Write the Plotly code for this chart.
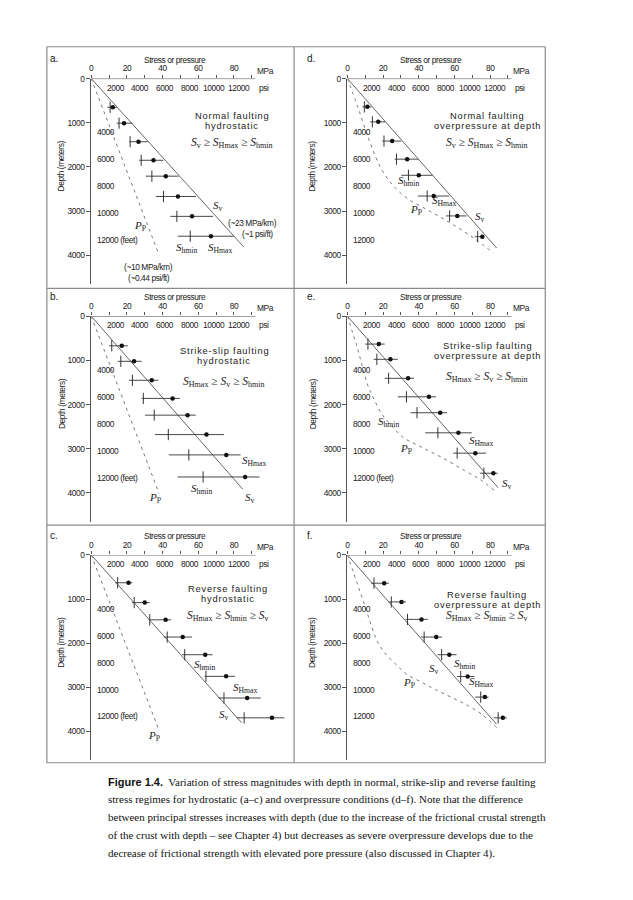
import plotly.graph_objects as go

# ---------------- data (MPa, depth in metres) ----------------
panel_letters = ["a.", "b.", "c.", "d.", "e.", "f."]
panel_title1 = ["Normal faulting", "Strike-slip faulting", "Reverse faulting",
                "Normal faulting", "Strike-slip faulting", "Reverse faulting"]
panel_title2 = ["hydrostatic", "hydrostatic", "hydrostatic",
                "overpressure at depth", "overpressure at depth", "overpressure at depth"]
panel_order = ["<i>S</i><sub>v</sub> ≥ <i>S</i><sub>Hmax</sub> ≥ <i>S</i><sub>hmin</sub>",
               "<i>S</i><sub>Hmax</sub> ≥ <i>S</i><sub>v</sub> ≥ <i>S</i><sub>hmin</sub>",
               "<i>S</i><sub>Hmax</sub> ≥ <i>S</i><sub>hmin</sub> ≥ <i>S</i><sub>v</sub>",
               "<i>S</i><sub>v</sub> ≥ <i>S</i><sub>Hmax</sub> ≥ <i>S</i><sub>hmin</sub>",
               "<i>S</i><sub>Hmax</sub> ≥ <i>S</i><sub>v</sub> ≥ <i>S</i><sub>hmin</sub>",
               "<i>S</i><sub>Hmax</sub> ≥ <i>S</i><sub>hmin</sub> ≥ <i>S</i><sub>v</sub>"]

# stress measurements per panel: depth, bar low, Shmin, SHmax, bar high
a_depth = [650, 1010, 1430, 1850, 2210, 2670, 3120, 3570]
a_lo    = [9.1, 14.3, 21.3, 26.9, 30.6, 36.2, 44.3, 48.6]
a_shmin = [10.6, 15.6, 21.8, 28.0, 34.0, 40.5, 48.0, 55.5]
a_shmax = [12.1, 18.4, 26.5, 34.9, 41.8, 48.6, 56.5, 67.1]
a_hi    = [14.3, 22.8, 31.7, 40.5, 49.0, 58.7, 68.3, 79.9]

b_depth = [670, 1020, 1450, 1860, 2240, 2680, 3140, 3640]
b_lo    = [10.0, 14.9, 21.2, 28.3, 30.1, 35.7, 43.5, 48.4]
b_shmin = [11.5, 16.6, 23.1, 29.2, 35.3, 43.2, 54.7, 62.7]
b_shmax = [17.1, 24.0, 33.9, 45.6, 54.0, 64.6, 75.7, 86.3]
b_hi    = [20.5, 28.3, 37.6, 49.7, 58.6, 74.4, 83.7, 94.3]

c_depth = [630, 1080, 1470, 1860, 2260, 2750, 3240, 3690]
c_lo    = [13.5, 22.8, 32.4, 40.7, 50.9, 63.5, 71.3, 81.5]
c_shmin = [14.8, 24.1, 32.8, 42.6, 52.4, 64.3, 74.4, 85.7]
c_shmax = [20.9, 30.0, 41.7, 51.3, 63.9, 75.6, 87.4, 101.3]
c_hi    = [23.1, 32.8, 44.8, 56.5, 68.0, 80.6, 95.0, 108.3]

d_depth = [640, 980, 1415, 1825, 2190, 2660, 3110, 3580]
d_lo    = [8.4, 12.7, 19.5, 26.5, 30.2, 39.5, 55.3, 71.4]
d_shmin = [9.5, 14.0, 20.5, 27.5, 34.2, 44.7, 57.3, 73.0]
d_shmax = [11.2, 17.3, 25.1, 33.5, 40.0, 48.4, 61.6, 75.6]
d_hi    = [13.5, 21.1, 30.2, 39.7, 47.7, 57.0, 66.8, 76.6]

e_depth = [630, 975, 1405, 1825, 2185, 2640, 3100, 3555]
e_lo    = [10.0, 14.7, 20.9, 28.2, 35.4, 43.6, 59.3, 74.2]
e_shmin = [11.5, 16.5, 23.1, 33.1, 39.0, 50.7, 61.5, 76.5]
e_shmax = [17.6, 24.1, 34.0, 45.7, 52.0, 62.2, 71.7, 81.8]
e_hi    = [20.9, 28.2, 37.3, 49.6, 55.9, 69.7, 77.7, 84.2]

f_depth = [640, 1065, 1460, 1860, 2260, 2755, 3220, 3690]
f_lo    = [13.3, 23.1, 32.6, 41.4, 50.5, 61.4, 71.6, 81.9]
f_shmin = [14.9, 24.6, 33.7, 43.0, 52.8, 63.5, 74.7, 84.5]
f_shmax = [20.6, 30.3, 41.5, 49.8, 57.1, 67.4, 77.0, 87.1]
f_hi    = [23.3, 32.8, 45.0, 53.0, 61.2, 71.2, 79.1, 89.3]

# vertical stress line (MPa, depth)
sv_mpa   = [[0, 85.4], [0, 85.0], [0, 84.3], [0, 83.7], [0, 84.4], [0, 83.5]]
sv_depth = [[0, 3810], [0, 3920], [0, 3800], [0, 3840], [0, 3880], [0, 3830]]

# pore pressure
a_pp_mpa, a_pp_depth = [0, 38.1], [0, 4000]
b_pp_mpa, b_pp_depth = [0, 38.0], [0, 4010]
c_pp_mpa, c_pp_depth = [0, 38.0], [0, 3970]
d_pp_mpa   = [0, 5.8, 12.5, 18.8, 26.0, 33.5, 44.7, 57.7, 70.7, 81.9]
d_pp_depth = [0, 640, 1430, 2030, 2440, 2710, 2970, 3270, 3610, 3950]
e_pp_mpa   = [0, 5.5, 11.5, 14.8, 19.2, 24.6, 31.1, 41.3, 52.5, 65.5, 74.8, 82.2]
e_pp_depth = [0, 710, 1570, 1870, 2210, 2470, 2740, 2960, 3190, 3490, 3710, 3940]
f_pp_mpa   = [0, 5.8, 10.2, 13.8, 17.2, 21.8, 27.2, 33.5, 41.9, 49.3, 58.6, 67.9, 75.3, 83.7]
f_pp_depth = [0, 680, 1200, 1650, 1990, 2260, 2480, 2710, 2890, 3050, 3230, 3420, 3610, 3910]

mpa_ticks = [0, 10, 20, 30, 40, 50, 60, 70, 80, 90]
mpa_labels = ["0", " ", "20", " ", "40", " ", "60", " ", "80", " "]
psi_ticks = [2000, 4000, 6000, 8000, 10000, 12000]
m_ticks = [0, 1000, 2000, 3000, 4000]
ft_ticks = [4000, 6000, 8000, 10000, 12000]
ft_labels_feet = ["4000", "6000", "8000", "10000", "12000 (feet)"]
ft_labels_plain = ["4000", "6000", "8000", "10000", "12000"]

PSI_PER_MPA = 145.038
FT_PER_M = 3.28084

# ---------------- layout geometry (pixels) ----------------
W, H = 633, 900
col_x0 = [89.5, 346.5]
row_y0 = [74, 313, 553]
PX_PER_MPA = 1.79
PX_PER_KM = 44.4
XMAX = 110.0
YMAX = 4650.0

SANS = "Liberation Sans, Arial, sans-serif"
SERIF = "Liberation Serif, Times New Roman, serif"
INK = "#222222"
LINE = "#555555"
SMALL = 8.4

def px(x):
    return x / W

def py(y):
    return 1 - y / H

def spaced(t):
    return '<span style="letter-spacing:0.8px">' + t + '</span>'

def narrow(t):
    return '<span style="letter-spacing:-0.4px">' + t + '</span>'

panels = [
    (a_depth, a_lo, a_shmin, a_shmax, a_hi, a_pp_mpa, a_pp_depth),
    (b_depth, b_lo, b_shmin, b_shmax, b_hi, b_pp_mpa, b_pp_depth),
    (c_depth, c_lo, c_shmin, c_shmax, c_hi, c_pp_mpa, c_pp_depth),
    (d_depth, d_lo, d_shmin, d_shmax, d_hi, d_pp_mpa, d_pp_depth),
    (e_depth, e_lo, e_shmin, e_shmax, e_hi, e_pp_mpa, e_pp_depth),
    (f_depth, f_lo, f_shmin, f_shmax, f_hi, f_pp_mpa, f_pp_depth),
]

# per-panel label positions (pixels)
labels = [
    [("<i>S</i><sub>v</sub>", 217, 202), (narrow("(~23 MPa/km)"), 251, 219, SANS, SMALL),
     (narrow("(~1 psi/ft)"), 256, 230, SANS, SMALL), ("<i>P</i><sub>P</sub>", 138, 222),
     ("<i>S</i><sub>hmin</sub>", 185, 244), ("<i>S</i><sub>Hmax</sub>", 219, 244),
     (narrow("(~10 MPa/km)"), 147, 263, SANS, SMALL), (narrow("(~0.44 psi/ft)"), 147, 274.5, SANS, SMALL)],
    [("<i>S</i><sub>Hmax</sub>", 253, 459), ("<i>S</i><sub>hmin</sub>", 200, 487),
     ("<i>S</i><sub>v</sub>", 249, 496), ("<i>P</i><sub>P</sub>", 153, 496)],
    [("<i>S</i><sub>hmin</sub>", 203, 664), ("<i>S</i><sub>Hmax</sub>", 244, 687),
     ("<i>S</i><sub>v</sub>", 223, 714), ("<i>P</i><sub>P</sub>", 152, 735)],
    [("<i>S</i><sub>hmin</sub>", 408, 177), ("<i>S</i><sub>Hmax</sub>", 443, 197),
     ("<i>P</i><sub>P</sub>", 415, 206), ("<i>S</i><sub>v</sub>", 480, 213)],
    [("<i>S</i><sub>hmin</sub>", 388, 419), ("<i>S</i><sub>Hmax</sub>", 481, 438),
     ("<i>P</i><sub>P</sub>", 405, 446), ("<i>S</i><sub>v</sub>", 507, 482)],
    [("<i>S</i><sub>hmin</sub>", 464, 663), ("<i>S</i><sub>v</sub>", 433, 668),
     ("<i>S</i><sub>Hmax</sub>", 481, 681), ("<i>P</i><sub>P</sub>", 408, 682)],
]
title_pos = [(231, 112), (223, 348), (227, 587), (487, 112), (487, 343), (487, 593)]
order_dy = [27, 31, 27, 27, 31, 21]

fig = go.Figure()
layout = dict(width=W, height=H, margin=dict(l=0, r=0, t=0, b=0),
              paper_bgcolor="white", plot_bgcolor="rgba(0,0,0,0)", showlegend=False)
annotations = []
shapes = []
TF = dict(family=SANS, size=SMALL, color=INK)
MATH = dict(family=SERIF, size=11, color=INK)


def note(text, x, y, font, xanchor="center", **kw):
    d = dict(text=text, x=px(x), y=py(y), xref="paper", yref="paper", showarrow=False,
             xanchor=xanchor, yanchor="middle", font=font)
    d.update(kw)
    annotations.append(d)


for i, (dep, lo, smin, smax, hi, ppm, ppd) in enumerate(panels):
    col = 0 if i < 3 else 1
    row = i % 3
    p = i + 1
    q = i + 7
    x0 = col_x0[col]
    x1 = x0 + XMAX * PX_PER_MPA
    y0 = row_y0[row]
    y1 = y0 + YMAX / 1000 * PX_PER_KM
    xa, ya = f"x{p}", f"y{p}"

    layout[f"xaxis{p}"] = dict(domain=[px(x0), px(x1)], range=[0, XMAX], anchor=ya, side="top",
                               tickvals=mpa_ticks, ticktext=[narrow(t) for t in mpa_labels],
                               ticks="outside", ticklen=3,
                               tickcolor=LINE, showline=False, showgrid=False, zeroline=False,
                               tickfont=TF)
    layout[f"xaxis{q}"] = dict(domain=[px(x0), px(x1)], range=[0, XMAX * PSI_PER_MPA], anchor=ya,
                               overlaying=xa, side="top", tickvals=psi_ticks,
                               showticklabels=False, ticks="inside", ticklen=2, tickcolor=LINE,
                               showline=False, showgrid=False, zeroline=False)
    layout[f"yaxis{p}"] = dict(domain=[py(y1), py(y0)], range=[YMAX, 0], anchor=xa, side="left",
                               tickvals=m_ticks, ticktext=[narrow(str(v)) for v in m_ticks],
                               ticks="outside", ticklen=4, tickcolor=LINE,
                               showline=True, linecolor=LINE, linewidth=1,
                               showgrid=False, zeroline=False, tickfont=TF)
    layout[f"yaxis{q}"] = dict(domain=[py(y1), py(y0)], range=[YMAX * FT_PER_M, 0], anchor=xa,
                               overlaying=ya, side="left", tickvals=ft_ticks,
                               showticklabels=False, ticks="inside", ticklen=3, tickcolor=LINE,
                               showline=False, showgrid=False, zeroline=False)

    # psi labels under the top axis, feet labels inside the depth axis
    for v in psi_ticks:
        annotations.append(dict(text=narrow(str(v)), x=v / PSI_PER_MPA, y=0, xref=xa, yref=ya,
                                xanchor="center", yanchor="middle",
                                yshift=-9, showarrow=False, font=TF))
    ftl = ft_labels_plain if i in (3, 5) else ft_labels_feet
    for v, t in zip(ft_ticks, ftl):
        annotations.append(dict(text=narrow(t), x=0, y=v / FT_PER_M, xref=xa, yref=ya,
                                xanchor="left", yanchor="middle",
                                xshift=4, showarrow=False, font=TF))

    # top MPa axis line
    shapes.append(dict(type="line", xref=xa, yref=ya, x0=0, x1=92, y0=0, y1=0,
                       line=dict(color=LINE, width=1)))

    # Sv line
    fig.add_trace(go.Scatter(x=sv_mpa[i], y=sv_depth[i], mode="lines", xaxis=xa, yaxis=ya,
                             line=dict(color="#666666", width=1), hoverinfo="skip"))
    # Pp dashed
    fig.add_trace(go.Scatter(x=ppm, y=ppd, mode="lines", xaxis=xa, yaxis=ya,
                             line=dict(color="#777777", width=1, dash="3px,4px", shape="spline"),
                             hoverinfo="skip"))
    # horizontal range bars
    bx, by = [], []
    for d_, l_, h_ in zip(dep, lo, hi):
        bx += [l_, h_, None]
        by += [d_, d_, None]
    fig.add_trace(go.Scatter(x=bx, y=by, mode="lines", xaxis=xa, yaxis=ya,
                             line=dict(color="#333333", width=0.9), hoverinfo="skip"))
    # Shmin tick marks
    fig.add_trace(go.Scatter(x=smin, y=dep, mode="markers", xaxis=xa, yaxis=ya, cliponaxis=False,
                             marker=dict(symbol="line-ns-open", size=8, color="#333333",
                                         line=dict(color="#333333", width=1)), hoverinfo="skip"))
    # SHmax dots
    fig.add_trace(go.Scatter(x=smax, y=dep, mode="markers", xaxis=xa, yaxis=ya, cliponaxis=False,
                             marker=dict(symbol="circle", size=4.5, color="#111111"),
                             hoverinfo="skip"))

    # texts
    note(narrow("Stress or pressure"), x0 + 84, y0 - 19, TF)
    note(narrow("MPa"), x0 + 175, y0 - 8, TF)
    note(narrow("psi"), x0 + 173, y0 + 9, TF)
    note(panel_letters[i], x0 - 43, y0 - 20, dict(family=SANS, size=10, color=INK), xanchor="left")
    note(narrow("Depth (meters)"), x0 - 30 if col == 0 else x0 - 35, y0 + 88, TF, textangle=-90)
    tx, ty = title_pos[i]
    note(spaced(panel_title1[i]), tx, ty, dict(family=SANS, size=9.3, color=INK))
    note(spaced(panel_title2[i]), tx, ty + 10, dict(family=SANS, size=9.3, color=INK))
    note(panel_order[i], tx, ty + order_dy[i], dict(family=SERIF, size=11.5, color=INK))
    for lab in labels[i]:
        if len(lab) == 3:
            t, lx, ly = lab
            fnt = MATH
        else:
            t, lx, ly, fam, sz = lab
            fnt = dict(family=fam, size=sz, color=INK)
        note(t, lx, ly, fnt)

# panel frame
BOX = "#8a8a8a"
for (xa0, ya0, xa1, ya1) in [(45, 42, 545, 42), (45, 762, 545, 762), (45, 42, 45, 762),
                             (545, 42, 545, 762), (293, 42, 293, 762),
                             (45, 285, 545, 285), (45, 523, 545, 523)]:
    shapes.append(dict(type="line", xref="paper", yref="paper", x0=px(xa0), x1=px(xa1),
                       y0=py(ya0), y1=py(ya1), line=dict(color=BOX, width=1.2)))

# caption
caption = [
    "<span style=\"font-family:'Liberation Sans',Arial,sans-serif\"><b>Figure 1.4.</b></span>  Variation of stress magnitudes with depth in normal, strike-slip and reverse faulting",
    "stress regimes for hydrostatic (a–c) and overpressure conditions (d–f). Note that the difference",
    "between principal stresses increases with depth (due to the increase of the frictional crustal strength",
    "of the crust with depth – see Chapter 4) but decreases as severe overpressure develops due to the",
    "decrease of frictional strength with elevated pore pressure (also discussed in Chapter 4).",
]
for k, line in enumerate(caption):
    note(line, 104, 781 + 18 * k, dict(family=SERIF, size=11, color="#111111"),
         xanchor="left", align="left")

layout["annotations"] = annotations
layout["shapes"] = shapes
fig.update_layout(**layout)
fig.write_html("out.html", config={"displayModeBar": False},
               post_script="document.body.style.margin='0';")
